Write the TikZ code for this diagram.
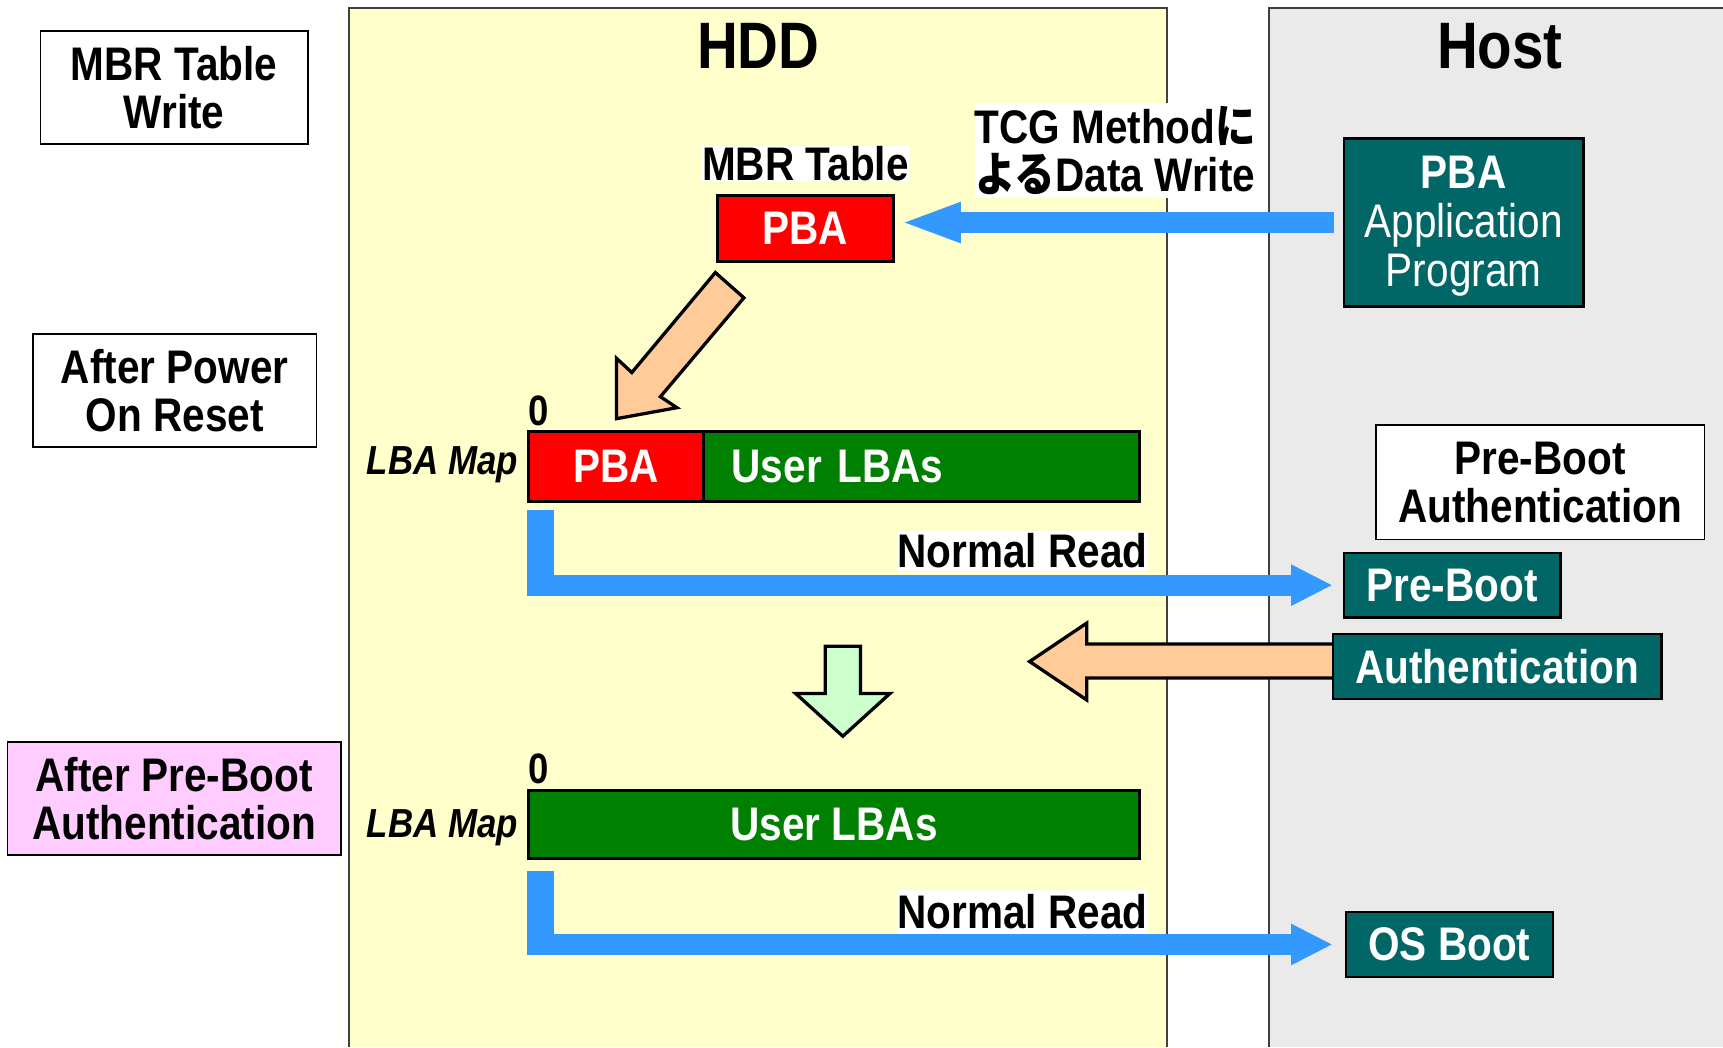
\documentclass[tikz,border=0pt]{standalone}
\usepackage{fontspec}
\setmainfont{Liberation Sans}[FakeStretch=0.86]
\newfontfamily\jafont{Noto Sans CJK JP}[FakeStretch=0.86]
\usepackage{tikz}
\usetikzlibrary{arrows.meta}
\usetikzlibrary{calc}
\definecolor{hddyellow}{HTML}{FFFFCC}
\definecolor{hostgray}{HTML}{EAEAEA}
\definecolor{hostteal}{HTML}{006666}
\definecolor{lbagreen}{HTML}{008000}
\definecolor{readblue}{HTML}{3399FF}
\definecolor{peach}{HTML}{FFCC99}
\definecolor{mint}{HTML}{CCFFCC}
\definecolor{pinkbox}{HTML}{FFCCFF}
\tikzset{
stage/.style={
  rectangle, draw=black, line width=0.45pt, fill=white,
  align=center, inner sep=0pt,
  font=\bfseries\fontsize{12.2}{12.4}\selectfont
},
panel title/.style={font=\bfseries\fontsize{17}{17}\selectfont, inner sep=0pt},
cell/.style={
  rectangle, draw=black, line width=0.8pt, text=white, inner sep=0pt,
  font=\bfseries\fontsize{12.2}{12.4}\selectfont
},
host box/.style={
  rectangle, draw=black, line width=0.6pt, fill=hostteal, text=white,
  align=center, inner sep=0pt,
  font=\bfseries\fontsize{12.2}{12.4}\selectfont
},
white label/.style={fill=white, align=center, inner sep=0pt,
  font=\bfseries\fontsize{12.2}{12.4}\selectfont},
map label/.style={font=\bfseries\itshape\fontsize{10.5}{12}\selectfont, inner sep=0pt},
map zero/.style={font=\bfseries\fontsize{11}{12}\selectfont, inner sep=0pt},
read arrow/.style={draw=readblue, line width=5.4pt},
block arrow/.style={draw=black, line width=0.85pt, line join=miter},
panel line/.style={draw=black!75, line width=0.5pt},
}

\begin{document}
\begin{tikzpicture}[x=0.01cm, y=-0.01cm]
\useasboundingbox (0,0) rectangle (1568,953);
% the two panels
\fill[hddyellow] (318,7) rectangle (1062,953);
\draw[panel line] (318,953) -- (318,7) -- (1062,7) -- (1062,953);
\fill[hostgray] (1155,7) rectangle (1568,953);
\draw[panel line] (1155,953) -- (1155,7) -- (1568,7);
\node[panel title] (hddtitle) at (690,42) {HDD};
\node[panel title] (hosttitle) at (1365,42) {Host};

% the stages
\node[stage, minimum width=2.43cm, minimum height=1.03cm] (mbrwrite) at (158.5,79.5) {MBR Table\\Write};
\node[stage, minimum width=2.58cm, minimum height=1.03cm] (poweron) at (159,355.5) {After Power\\On Reset};
\node[stage, fill=pinkbox, minimum width=3.03cm, minimum height=1.03cm] (afterpba) at (158.5,726.5) {After Pre-Boot\\Authentication};

% the block arrows
\filldraw[block arrow, fill=peach] (651,248) -- (677,271) -- (601,361) -- (616,371) -- (561,381)
  -- (561,326) -- (575,339) -- cycle;
\filldraw[block arrow, fill=peach] (1215,586) -- (989,586) -- (989,567) -- (937,602) -- (989,637)
  -- (989,617) -- (1215,617) -- cycle;
\filldraw[block arrow, fill=mint] (751,588) -- (783,588) -- (783,631) -- (810,631) -- (767,670)
  -- (724,631) -- (751,631) -- cycle;

% the MBR table
\node[white label] (mbrlabel) at (733,149) {MBR Table};
\node[cell, fill=red, minimum width=1.6cm, minimum height=0.6cm] (mbrpba) at (733,208) {PBA};
\node[white label, minimum width=2.54cm, minimum height=0.87cm] (tcglabel) at (1015,137)
  {TCG Method{\jafont に}\\{\jafont よる}Data Write};
\node[host box, minimum width=2.18cm, minimum height=1.53cm,
  font=\fontsize{12.2}{12.7}\selectfont] (pbaapp) at (1332,202.5)
  {\raisebox{-0.05cm}[\height][\depth]{\begin{tabular}{@{}c@{}}\textbf{PBA}\\Application\\Program\end{tabular}}};

% the first LBA map
\node[map zero] (zeroone) at (490,374) {0};
\node[map label, anchor=base east] (mapone) at (472,432) {LBA Map};
\node[cell, fill=red, minimum width=1.59cm, minimum height=0.63cm] (pbaone) at (560.5,424.5) {PBA};
\node[cell, fill=lbagreen, text width=3.45cm, align=left, inner xsep=0.26cm,
  minimum height=0.63cm] (usersone) at (838.5,424.5) {User LBAs};
\node[white label, minimum width=2.25cm, minimum height=0.37cm] (readone) at (930.5,501.5) {Normal Read};

% the second LBA map
\node[map zero] (zerotwo) at (490,700) {0};
\node[map label, anchor=base east] (maptwo) at (472,762) {LBA Map};
\node[cell, fill=lbagreen, minimum width=5.56cm, minimum height=0.62cm] (userstwo) at (759,750) {User LBAs};
\node[white label, minimum width=2.25cm, minimum height=0.4cm] (readtwo) at (930.5,830) {Normal Read};

% the host side
\node[stage, minimum width=2.99cm, minimum height=1.04cm] (pbauth) at (1401.5,439) {Pre-Boot\\Authentication};
\node[host box, minimum width=1.97cm, minimum height=0.59cm] (preboot) at (1321.5,532.5) {Pre-Boot};
\node[host box, minimum width=2.99cm, minimum height=0.59cm] (authen) at (1362.5,606.5) {Authentication};
\node[host box, minimum width=1.88cm, minimum height=0.59cm] (osboot) at (1319,859.5) {OS Boot};

% the blue arrows
\draw[read arrow, -{Triangle[length=0.51cm,width=0.38cm,line width=0pt]}, shorten <=0.08cm, shorten >=0.09cm]
  (pbaapp.west) -- (mbrpba.east |- pbaapp.west);
\coordinate (bendone) at (pbaone.south west |- preboot.west);
\fill[readblue] ($(pbaone.south west)+(0,7)$) rectangle ($(bendone)+(25,10)$);
\draw[read arrow, -{Triangle[length=0.37cm,width=0.38cm,line width=0pt]}, shorten >=0.1cm]
  (bendone) -- (preboot.west);
\coordinate (bendtwo) at (userstwo.south west |- osboot.west);
\fill[readblue] ($(userstwo.south west)+(0,10)$) rectangle ($(bendtwo)+(25,10)$);
\draw[read arrow, -{Triangle[length=0.37cm,width=0.38cm,line width=0pt]}, shorten >=0.12cm]
  (bendtwo) -- (osboot.west);
\end{tikzpicture}
\end{document}
